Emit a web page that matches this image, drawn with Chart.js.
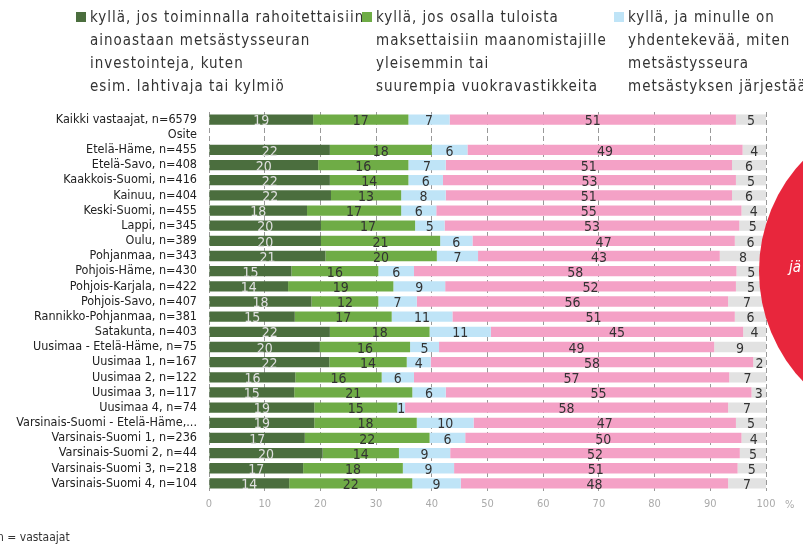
<!DOCTYPE html>
<html>
<head>
<meta charset="utf-8">
<script src="https://cdn.jsdelivr.net/npm/chart.js@4.4.0/dist/chart.umd.min.js"></script>
<style>
  html, body { margin: 0; padding: 0; background: #fff; }
  #wrap { position: relative; width: 803px; height: 547px; overflow: hidden; font-family: "Liberation Sans Narrow", "DejaVu Sans Condensed", sans-serif; }
  #chart { position: absolute; left: 0; top: 0; }
  .leg { position: absolute; top: 6px; font-size: 15px; line-height: 23px; color: #333; letter-spacing: 1px; white-space: nowrap; }
  .leg i { position: absolute; left: -14px; top: 6px; width: 10px; height: 10px; }
  #pct { position: absolute; left: 785px; top: 498px; font-size: 11px; color: #aaa; }
  #foot { position: absolute; left: -3px; top: 530px; font-size: 12px; color: #333; }
  #blob { position: absolute; left: 759px; top: 110px; width: 322px; height: 322px; border-radius: 50%; background: #e8263c; }
  #blob span { position: absolute; left: 30px; top: 148px; color: #fff; font-style: italic; font-size: 15px; }
</style>
</head>
<body>
<div id="wrap">
  <canvas id="chart" width="803" height="547"></canvas>
  <div class="leg" style="left:90px"><i style="background:#4b6e3e"></i>kyllä, jos toiminnalla rahoitettaisiin<br>ainoastaan metsästysseuran<br>investointeja, kuten<br>esim. lahtivaja tai kylmiö</div>
  <div class="leg" style="left:376px"><i style="background:#6fac46"></i>kyllä, jos osalla tuloista<br>maksettaisiin maanomistajille<br>yleisemmin tai<br>suurempia vuokravastikkeita</div>
  <div class="leg" style="left:628px"><i style="background:#bfe4f7"></i>kyllä, ja minulle on<br>yhdentekevää, miten<br>metsästysseura<br>metsästyksen järjestää</div>
  <div id="blob"><span>jä</span></div>
  <div id="pct">%</div>
  <div id="foot">n = vastaajat</div>
</div>
<script>
const categories = [
  "Kaikki vastaajat, n=6579", "Osite", "Etelä-Häme, n=455", "Etelä-Savo, n=408",
  "Kaakkois-Suomi, n=416", "Kainuu, n=404", "Keski-Suomi, n=455", "Lappi, n=345",
  "Oulu, n=389", "Pohjanmaa, n=343", "Pohjois-Häme, n=430", "Pohjois-Karjala, n=422",
  "Pohjois-Savo, n=407", "Rannikko-Pohjanmaa, n=381", "Satakunta, n=403",
  "Uusimaa - Etelä-Häme, n=75", "Uusimaa 1, n=167", "Uusimaa 2, n=122", "Uusimaa 3, n=117",
  "Uusimaa 4, n=74", "Varsinais-Suomi - Etelä-Häme,...", "Varsinais-Suomi 1, n=236",
  "Varsinais-Suomi 2, n=44", "Varsinais-Suomi 3, n=218", "Varsinais-Suomi 4, n=104"
];

// shares in % (printed labels are these rounded)
const investOnly = [18.7, null, 21.7, 19.6, 21.7, 21.9, 17.6, 20.1, 20.1, 20.9, 14.8, 14.2, 18.4, 15.4, 21.7, 19.9, 21.6, 15.5, 15.3, 18.9, 18.9, 17.2, 20.4, 16.9, 14.4];
const landowners = [17.1, null, 18.3, 16.2, 14.1, 12.6, 16.9, 16.9, 21.4, 20.0, 15.6, 18.9, 12.0, 17.4, 17.9, 16.2, 13.9, 15.5, 21.2, 14.9, 18.4, 22.4, 13.7, 17.9, 22.1];
const indifferent = [7.4, null, 6.4, 6.7, 6.2, 8.0, 6.3, 5.3, 5.8, 7.4, 6.4, 9.3, 6.9, 10.9, 11.0, 5.2, 4.3, 5.8, 6.0, 1.4, 10.2, 6.4, 9.2, 9.2, 8.7];
const noShare = [51.4, null, 49.4, 51.4, 52.6, 51.4, 54.8, 52.9, 47.1, 43.4, 57.9, 52.2, 55.9, 50.7, 45.3, 49.4, 57.9, 56.6, 54.9, 58.0, 47.1, 49.6, 52.0, 50.9, 48.0];
const cantSay = [5.4, null, 4.2, 6.1, 5.4, 6.1, 4.4, 4.8, 5.6, 8.3, 5.3, 5.4, 6.8, 5.6, 4.1, 9.3, 2.3, 6.6, 2.6, 6.8, 5.4, 4.4, 4.7, 5.1, 6.8];

const colors = ["#4b6e3e", "#6fac46", "#bfe4f7", "#f4a1c6", "#e2e2e2"];
const labelColors = ["#e0e0e0", "#333", "#333", "#333", "#333"];
const FONT = '"Liberation Sans Narrow", "DejaVu Sans Condensed", sans-serif';

const barLabels = {
  id: "barLabels",
  afterDatasetsDraw(chart) {
    const ctx = chart.ctx;
    ctx.save();
    ctx.font = "14px " + FONT;
    ctx.textAlign = "center";
    ctx.textBaseline = "middle";
    chart.data.datasets.forEach((ds, i) => {
      chart.getDatasetMeta(i).data.forEach((el, j) => {
        const v = ds.data[j];
        if (v == null) return;
        ctx.fillStyle = labelColors[i];
        ctx.fillText(Math.round(v), (el.x + el.base) / 2, el.y + 2);
      });
    });
    ctx.restore();
  },
};

const sets = [investOnly, landowners, indifferent, noShare, cantSay];
new Chart(document.getElementById("chart"), {
  type: "bar",
  data: {
    labels: categories,
    datasets: sets.map((d, i) => ({
      data: d,
      backgroundColor: colors[i],
      barPercentage: 0.68,
      categoryPercentage: 1,
    })),
  },
  options: {
    indexAxis: "y",
    responsive: false,
    animation: false,
    layout: { padding: { top: 112, right: 37, bottom: 30, left: 0 } },
    plugins: { legend: { display: false }, tooltip: { enabled: false } },
    scales: {
      x: {
        stacked: true,
        min: 0,
        max: 100,
        ticks: { stepSize: 10, color: "#aaa", font: { size: 11, family: FONT }, padding: 7 },
        grid: { color: "#999", drawTicks: false },
        border: { display: false, dash: [5, 3] },
        afterFit: (s) => { s.height = 26; },
      },
      y: {
        stacked: true,
        ticks: { color: "#222", font: { size: 12.5, family: FONT }, padding: 4, autoSkip: false },
        grid: { display: false },
        border: { display: false },
        afterFit: (s) => { s.width = 209; },
      },
    },
  },
  plugins: [barLabels],
});
</script>
</body>
</html>
